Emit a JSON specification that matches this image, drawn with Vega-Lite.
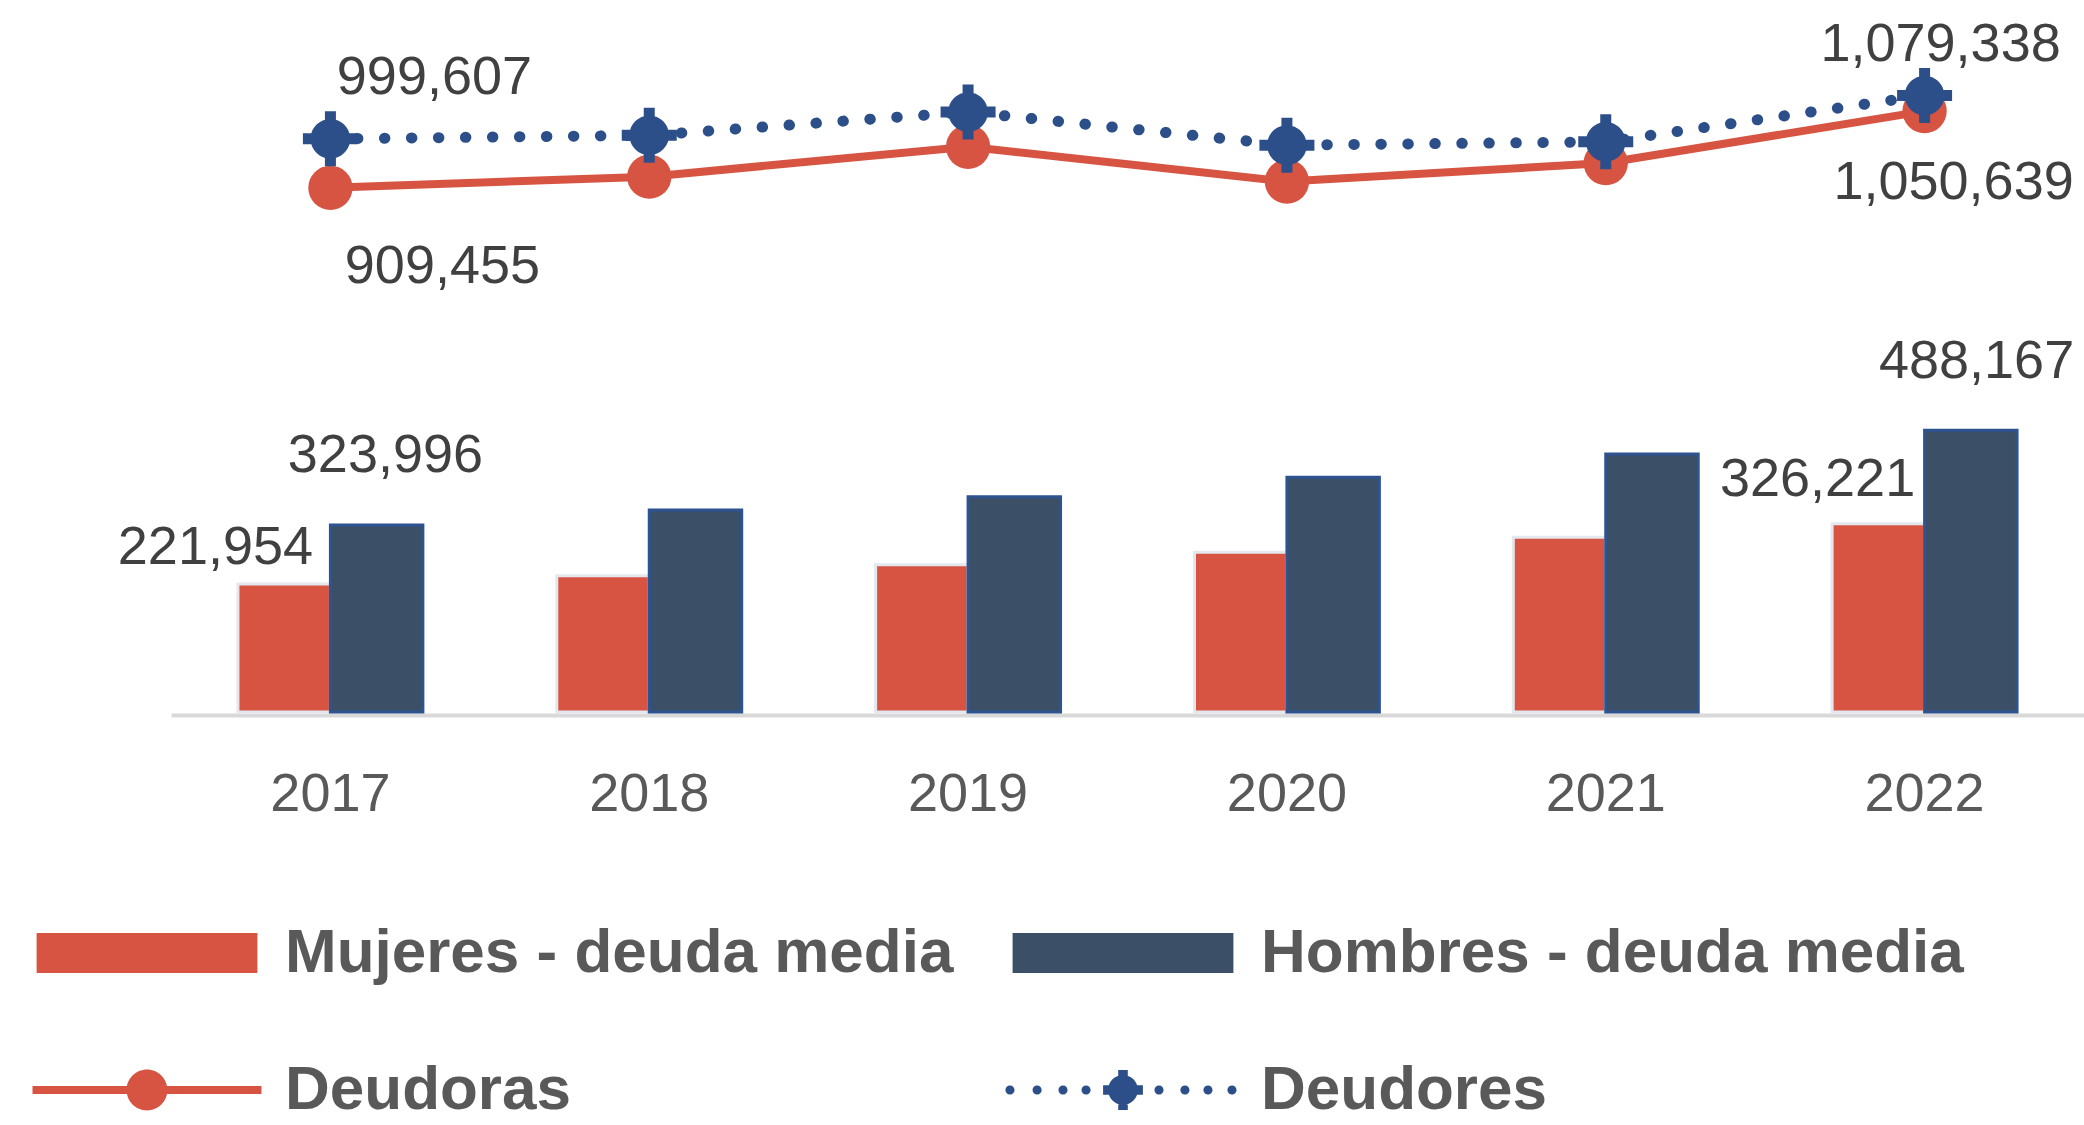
{
  "$schema": "https://vega.github.io/schema/vega-lite/v6.json",
  "width": 1913,
  "height": 712,
  "autosize": "none",
  "padding": {"left": 171, "top": 0, "right": 0, "bottom": 413},
  "background": "white",
  "config": {"view": {"stroke": null}, "font": "Liberation Sans"},
  "data": {
    "values": [
      {"year": "2017", "serie": "Mujeres - deuda media", "tipo": "bar", "valor": 221954},
      {"year": "2018", "serie": "Mujeres - deuda media", "tipo": "bar", "valor": 236000},
      {"year": "2019", "serie": "Mujeres - deuda media", "tipo": "bar", "valor": 255000},
      {"year": "2020", "serie": "Mujeres - deuda media", "tipo": "bar", "valor": 277000},
      {"year": "2021", "serie": "Mujeres - deuda media", "tipo": "bar", "valor": 303000},
      {"year": "2022", "serie": "Mujeres - deuda media", "tipo": "bar", "valor": 326221},
      {"year": "2017", "serie": "Hombres - deuda media", "tipo": "bar", "valor": 323996},
      {"year": "2018", "serie": "Hombres - deuda media", "tipo": "bar", "valor": 350000},
      {"year": "2019", "serie": "Hombres - deuda media", "tipo": "bar", "valor": 373000},
      {"year": "2020", "serie": "Hombres - deuda media", "tipo": "bar", "valor": 407000},
      {"year": "2021", "serie": "Hombres - deuda media", "tipo": "bar", "valor": 447000},
      {"year": "2022", "serie": "Hombres - deuda media", "tipo": "bar", "valor": 488167},
      {"year": "2017", "serie": "Deudoras", "tipo": "line", "valor": 909455},
      {"year": "2018", "serie": "Deudoras", "tipo": "line", "valor": 930000},
      {"year": "2019", "serie": "Deudoras", "tipo": "line", "valor": 985000},
      {"year": "2020", "serie": "Deudoras", "tipo": "line", "valor": 921000},
      {"year": "2021", "serie": "Deudoras", "tipo": "line", "valor": 955000},
      {"year": "2022", "serie": "Deudoras", "tipo": "line", "valor": 1050639},
      {"year": "2017", "serie": "Deudores", "tipo": "line", "valor": 999607},
      {"year": "2018", "serie": "Deudores", "tipo": "line", "valor": 1006000},
      {"year": "2019", "serie": "Deudores", "tipo": "line", "valor": 1049000},
      {"year": "2020", "serie": "Deudores", "tipo": "line", "valor": 988000},
      {"year": "2021", "serie": "Deudores", "tipo": "line", "valor": 994000},
      {"year": "2022", "serie": "Deudores", "tipo": "line", "valor": 1079338}
    ]
  },
  "encoding": {
    "x": {
      "field": "year",
      "type": "nominal",
      "scale": {"paddingInner": 0.42, "paddingOuter": 0.21},
      "axis": {
        "title": null,
        "labelAngle": 0,
        "labelFont": "Liberation Sans",
        "labelFontSize": 54,
        "labelColor": "#595959",
        "ticks": false,
        "domainColor": "#D9D9D9",
        "domainWidth": 4,
        "labelPadding": 52,
        "offset": 3,
        "grid": false
      }
    }
  },
  "layer": [
    {
      "transform": [{"filter": "datum.tipo === 'bar'"}],
      "mark": {"type": "bar", "strokeWidth": 3},
      "encoding": {
        "xOffset": {"field": "serie", "type": "nominal", "sort": ["Mujeres - deuda media", "Hombres - deuda media"], "scale": {"paddingInner": 0, "paddingOuter": 0}},
        "y": {"field": "valor", "type": "quantitative", "scale": {"domain": [0, 1233896], "nice": false}, "axis": null},
        "color": {
          "field": "serie",
          "type": "nominal",
          "scale": {
            "domain": ["Mujeres - deuda media", "Hombres - deuda media", "Deudoras", "Deudores"],
            "range": ["#D75442", "#3B4F66", "#D75442", "#2C4F8A"]
          },
          "legend": {
            "orient": "none", "legendX": -55, "legendY": 922, "columns": 2, "direction": "horizontal", "title": null,
            "symbolSize": 2304, "symbolStrokeWidth": 0, "symbolOpacity": 1,
            "labelFontSize": 62, "labelFontWeight": "bold", "labelColor": "#595959", "labelFont": "Liberation Sans",
            "labelLimit": 1500, "labelOffset": 107, "columnPadding": 51, "rowPadding": 75
          }
        },
        "stroke": {"condition": {"test": "datum.serie === 'Hombres - deuda media'", "value": "#2E5391"}, "value": "#E3E8EE"}
      }
    },
    {
      "mark": {"type": "point", "opacity": 0, "filled": true},
      "encoding": {
        "y": {"field": "valor", "type": "quantitative", "scale": {"domain": [0, 2000000], "nice": false}, "axis": null},
        "color": {
          "field": "serie",
          "type": "nominal",
          "legend": {
            "orient": "none", "legendX": -55, "legendY": 922, "columns": 2, "direction": "horizontal", "title": null,
            "symbolSize": 2304, "symbolStrokeWidth": 0, "symbolOpacity": 1,
            "labelFontSize": 62, "labelFontWeight": "bold", "labelColor": "#595959", "labelFont": "Liberation Sans",
            "labelLimit": 1500, "labelOffset": 107, "columnPadding": 51, "rowPadding": 75
          }
        },
        "shape": {
          "field": "serie",
          "type": "nominal",
          "scale": {
            "domain": ["Mujeres - deuda media", "Hombres - deuda media", "Deudoras", "Deudores"],
            "range": [
              "M-4.6,-0.83H4.6V0.83H-4.6Z",
              "M-4.6,-0.83H4.6V0.83H-4.6Z",
              "M-4.77,-0.17H4.77V0.17H-4.77ZM0.85,0A0.85,0.85,0,1,1,-0.85,0A0.85,0.85,0,1,1,0.85,0Z",
              "M-4.52,0A0.19,0.19,0,1,1,-4.90,0A0.19,0.19,0,1,1,-4.52,0ZM-3.39,0A0.19,0.19,0,1,1,-3.77,0A0.19,0.19,0,1,1,-3.39,0ZM-2.31,0A0.19,0.19,0,1,1,-2.69,0A0.19,0.19,0,1,1,-2.31,0ZM-1.35,0A0.19,0.19,0,1,1,-1.73,0A0.19,0.19,0,1,1,-1.35,0ZM1.69,0A0.19,0.19,0,1,1,1.31,0A0.19,0.19,0,1,1,1.69,0ZM2.77,0A0.19,0.19,0,1,1,2.39,0A0.19,0.19,0,1,1,2.77,0ZM3.73,0A0.19,0.19,0,1,1,3.35,0A0.19,0.19,0,1,1,3.73,0ZM4.73,0A0.19,0.19,0,1,1,4.35,0A0.19,0.19,0,1,1,4.73,0ZM0.62,0A0.62,0.62,0,1,1,-0.62,0A0.62,0.62,0,1,1,0.62,0ZM-0.2,-0.83H0.2V0.83H-0.2ZM-0.83,-0.2H0.83V0.2H-0.83Z"
            ]
          },
          "legend": {
            "orient": "none", "legendX": -55, "legendY": 922, "columns": 2, "direction": "horizontal", "title": null,
            "symbolSize": 2304, "symbolStrokeWidth": 0, "symbolOpacity": 1,
            "labelFontSize": 62, "labelFontWeight": "bold", "labelColor": "#595959", "labelFont": "Liberation Sans",
            "labelLimit": 1500, "labelOffset": 107, "columnPadding": 51, "rowPadding": 75
          }
        }
      }
    },
    {
      "transform": [{"filter": "datum.serie === 'Deudoras'"}],
      "mark": {"type": "line", "strokeWidth": 8},
      "encoding": {
        "y": {"field": "valor", "type": "quantitative", "scale": {"domain": [-55048, 1255032], "nice": false}, "axis": null},
        "color": {"field": "serie", "type": "nominal"}
      }
    },
    {
      "transform": [{"filter": "datum.serie === 'Deudoras'"}],
      "mark": {"type": "point", "shape": "circle", "filled": true, "size": 1963, "color": "#D75442", "opacity": 1},
      "encoding": {
        "y": {"field": "valor", "type": "quantitative", "scale": {"domain": [-55048, 1255032], "nice": false}, "axis": null}
      }
    },
    {
      "transform": [{"filter": "datum.serie === 'Deudores'"}],
      "mark": {"type": "line", "strokeWidth": 11, "strokeDash": [0.5, 26.5], "strokeCap": "round"},
      "encoding": {
        "y": {"field": "valor", "type": "quantitative", "scale": {"domain": [-55048, 1255032], "nice": false}, "axis": null},
        "color": {"field": "serie", "type": "nominal"}
      }
    },
    {
      "transform": [{"filter": "datum.serie === 'Deudores'"}],
      "mark": {"type": "point", "shape": "M0.72,0A0.72,0.72,0,1,1,-0.72,0A0.72,0.72,0,1,1,0.72,0ZM-0.2,-1H0.2V1H-0.2ZM-1,-0.2H1V0.2H-1Z", "filled": true, "size": 3025, "color": "#2C4F8A", "opacity": 1},
      "encoding": {
        "y": {"field": "valor", "type": "quantitative", "scale": {"domain": [-55048, 1255032], "nice": false}, "axis": null}
      }
    },
    {
      "transform": [{"filter": "datum.serie === 'Deudores' && datum.year === '2017'"}],
      "mark": {"type": "text", "dx": 104, "dy": -61, "fontSize": 54, "font": "Liberation Sans", "color": "#404040", "baseline": "middle"},
      "encoding": {
        "y": {"field": "valor", "type": "quantitative", "scale": {"domain": [-55048, 1255032], "nice": false}, "axis": null},
        "text": {"field": "valor", "type": "quantitative", "format": ",.0f"}
      }
    },
    {
      "transform": [{"filter": "datum.serie === 'Deudoras' && datum.year === '2017'"}],
      "mark": {"type": "text", "dx": 112, "dy": 79, "fontSize": 54, "font": "Liberation Sans", "color": "#404040", "baseline": "middle"},
      "encoding": {
        "y": {"field": "valor", "type": "quantitative", "scale": {"domain": [-55048, 1255032], "nice": false}, "axis": null},
        "text": {"field": "valor", "type": "quantitative", "format": ",.0f"}
      }
    },
    {
      "transform": [{"filter": "datum.serie === 'Deudores' && datum.year === '2022'"}],
      "mark": {"type": "text", "dx": 16, "dy": -50, "fontSize": 54, "font": "Liberation Sans", "color": "#404040", "baseline": "middle"},
      "encoding": {
        "y": {"field": "valor", "type": "quantitative", "scale": {"domain": [-55048, 1255032], "nice": false}, "axis": null},
        "text": {"field": "valor", "type": "quantitative", "format": ",.0f"}
      }
    },
    {
      "transform": [{"filter": "datum.serie === 'Deudoras' && datum.year === '2022'"}],
      "mark": {"type": "text", "dx": 29, "dy": 72, "fontSize": 54, "font": "Liberation Sans", "color": "#404040", "baseline": "middle"},
      "encoding": {
        "y": {"field": "valor", "type": "quantitative", "scale": {"domain": [-55048, 1255032], "nice": false}, "axis": null},
        "text": {"field": "valor", "type": "quantitative", "format": ",.0f"}
      }
    },
    {
      "transform": [{"filter": "datum.serie === 'Hombres - deuda media' && datum.year === '2017'"}],
      "mark": {"type": "text", "dx": 55, "dy": -69, "fontSize": 54, "font": "Liberation Sans", "color": "#404040", "baseline": "middle"},
      "encoding": {
        "y": {"field": "valor", "type": "quantitative", "scale": {"domain": [0, 1233896], "nice": false}, "axis": null},
        "text": {"field": "valor", "type": "quantitative", "format": ",.0f"}
      }
    },
    {
      "transform": [{"filter": "datum.serie === 'Mujeres - deuda media' && datum.year === '2017'"}],
      "mark": {"type": "text", "dx": -115, "dy": -36, "fontSize": 54, "font": "Liberation Sans", "color": "#404040", "baseline": "middle"},
      "encoding": {
        "y": {"field": "valor", "type": "quantitative", "scale": {"domain": [0, 1233896], "nice": false}, "axis": null},
        "text": {"field": "valor", "type": "quantitative", "format": ",.0f"}
      }
    },
    {
      "transform": [{"filter": "datum.serie === 'Mujeres - deuda media' && datum.year === '2022'"}],
      "mark": {"type": "text", "dx": -107, "dy": -44, "fontSize": 54, "font": "Liberation Sans", "color": "#404040", "baseline": "middle"},
      "encoding": {
        "y": {"field": "valor", "type": "quantitative", "scale": {"domain": [0, 1233896], "nice": false}, "axis": null},
        "text": {"field": "valor", "type": "quantitative", "format": ",.0f"}
      }
    },
    {
      "transform": [{"filter": "datum.serie === 'Hombres - deuda media' && datum.year === '2022'"}],
      "mark": {"type": "text", "dx": 52, "dy": -68, "fontSize": 54, "font": "Liberation Sans", "color": "#404040", "baseline": "middle"},
      "encoding": {
        "y": {"field": "valor", "type": "quantitative", "scale": {"domain": [0, 1233896], "nice": false}, "axis": null},
        "text": {"field": "valor", "type": "quantitative", "format": ",.0f"}
      }
    }
  ],
  "resolve": {"scale": {"y": "independent"}}
}
